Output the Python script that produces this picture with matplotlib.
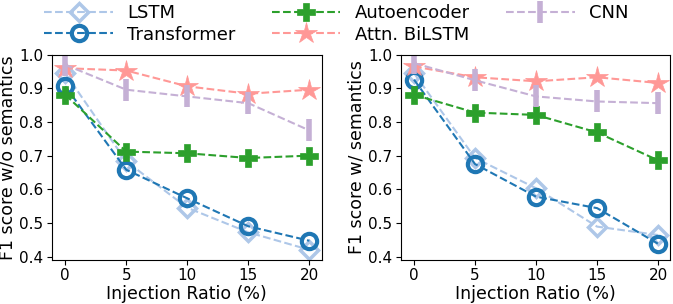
import matplotlib.pyplot as plt
import numpy as np

# injection ratios on the x axis
ratios = [0, 5, 10, 15, 20]

# F1 scores without semantics (left panel)
lstm_wo = [0.945, 0.683, 0.545, 0.472, 0.420]
trans_wo = [0.906, 0.658, 0.573, 0.490, 0.447]
ae_wo = [0.881, 0.712, 0.707, 0.693, 0.700]
attn_wo = [0.960, 0.953, 0.906, 0.884, 0.896]
cnn_wo = [0.970, 0.896, 0.876, 0.856, 0.775]

# F1 scores with semantics (right panel)
lstm_w = [0.945, 0.693, 0.603, 0.489, 0.464]
trans_w = [0.926, 0.675, 0.578, 0.544, 0.438]
ae_w = [0.881, 0.828, 0.821, 0.769, 0.686]
attn_w = [0.965, 0.933, 0.921, 0.933, 0.916]
cnn_w = [0.975, 0.924, 0.876, 0.861, 0.856]

names = ['LSTM', 'Transformer', 'Autoencoder', 'Attn. BiLSTM', 'CNN']
colors = ['#aec7e8', '#1f77b4', '#2ca02c', '#ff9896', '#c5b0d5']
styles = [
    dict(marker='D', markersize=9, mfc='none', mew=2.5),
    dict(marker='o', markersize=11, mfc='none', mew=3),
    dict(marker='P', markersize=13, mew=0.5),
    dict(marker='*', markersize=16, mew=0.5),
    dict(marker='|', markersize=16, mew=4),
]

fig, axes = plt.subplots(1, 2, figsize=(6.73, 3.04), dpi=100)

panels = [
    (axes[0], [lstm_wo, trans_wo, ae_wo, attn_wo, cnn_wo], 'F1 score w/o semantics'),
    (axes[1], [lstm_w, trans_w, ae_w, attn_w, cnn_w], 'F1 score w/ semantics'),
]

for ax, series, ylab in panels:
    for name, vals, c, st in zip(names, series, colors, styles):
        ax.plot(ratios, vals, linestyle='--', color=c, label=name, **st)
    ax.set_ylim(0.39, 1.0)
    ax.set_yticks(np.arange(0.4, 1.01, 0.1))
    ax.set_xticks(ratios)
    ax.set_xlim(-1.1, 21)
    ax.set_xlabel('Injection Ratio (%)', fontsize=12.5, labelpad=1.5)
    ax.set_ylabel(ylab, fontsize=12.5, labelpad=2)
    ax.tick_params(labelsize=11, pad=2.5)

# shared legend across the top, column-major order
handles, labels = axes[0].get_legend_handles_labels()
fig.legend(handles, labels, loc='upper center', ncol=3, frameon=False,
           fontsize=13, bbox_to_anchor=(0.5, 1.04), columnspacing=2.0,
           handlelength=3.8, labelspacing=0.2)

plt.subplots_adjust(left=0.077, right=0.996, top=0.82, bottom=0.145, wspace=0.293)
plt.savefig('out.png', dpi=100)
